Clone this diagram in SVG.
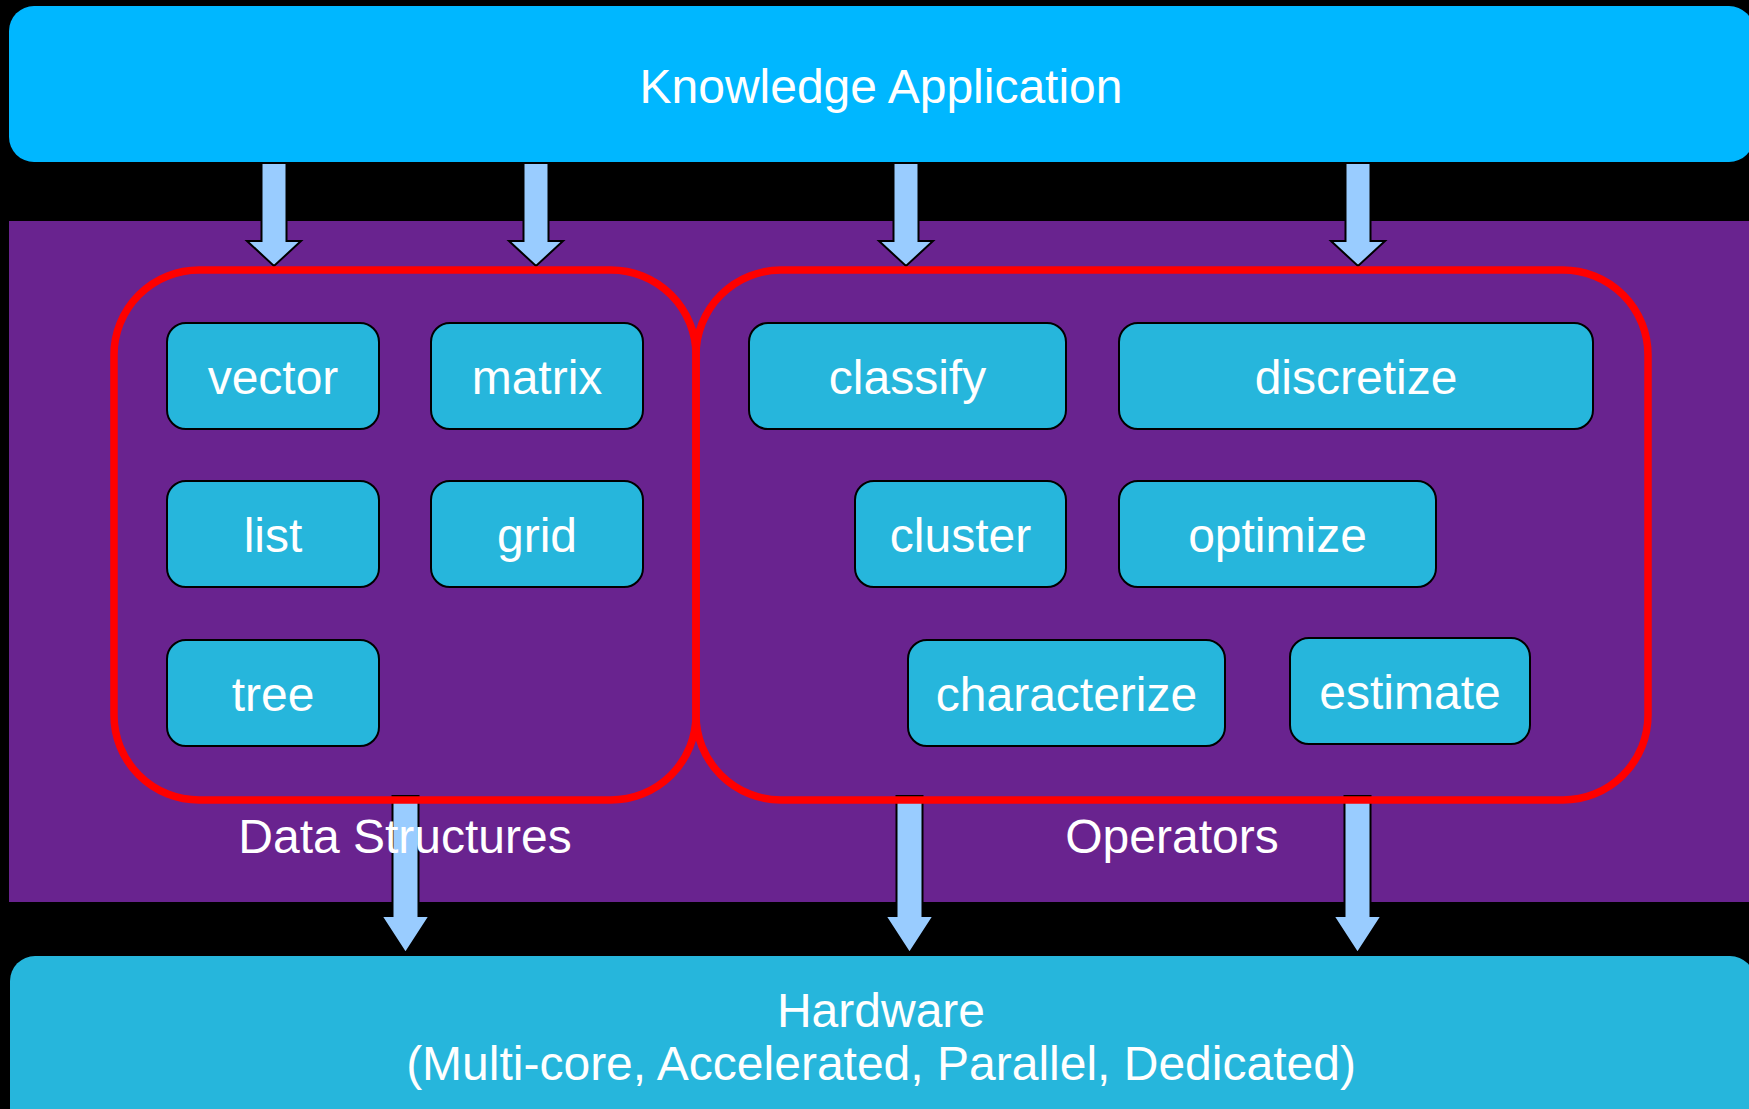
<svg xmlns="http://www.w3.org/2000/svg" width="1749" height="1109" viewBox="0 0 1749 1109">
  <style>
    text { font-family: "Liberation Sans", Arial, sans-serif; font-size: 48px; fill: #ffffff; text-anchor: middle; }
    .item { fill: #26B6DC; stroke: #000000; stroke-width: 2; }
    .group { fill: none; stroke: #FF0000; stroke-width: 7.5; }
    .arrow { fill: #99CCFF; stroke: #000000; stroke-width: 2; stroke-linejoin: miter; }
  </style>

  <!-- background -->
  <rect x="0" y="0" width="1749" height="1109" fill="#000000"/>

  <!-- middle layer band -->
  <rect id="layer-band" x="9" y="221" width="1745" height="681" fill="#69238F"/>

  <!-- top layer -->
  <g id="knowledge-application">
    <rect x="9" y="6" width="1745" height="156" rx="25" ry="25" fill="#00B7FF"/>
    <text x="881" y="103">Knowledge Application</text>
  </g>

  <!-- bottom layer -->
  <g id="hardware">
    <rect x="10" y="956" width="1745" height="200" rx="25" ry="25" fill="#26B6DC"/>
    <text x="881" y="1027">Hardware</text>
    <text x="881" y="1080">(Multi-core, Accelerated, Parallel, Dedicated)</text>
  </g>

  <!-- connectors -->
  <g id="connectors">
    <!-- application down to the groups -->
    <polygon class="arrow" points="261.5,163 286.5,163 286.5,241 301,241 274,266 247,241 261.5,241"/>
    <polygon class="arrow" points="523.5,163 548.5,163 548.5,241 563,241 536,266 509,241 523.5,241"/>
    <polygon class="arrow" points="893.5,163 918.5,163 918.5,241 933,241 906,266 879,241 893.5,241"/>
    <polygon class="arrow" points="1345.5,163 1370.5,163 1370.5,241 1385,241 1358,266 1331,241 1345.5,241"/>
    <!-- groups down to hardware -->
    <polygon class="arrow" points="392.5,796 418.5,796 418.5,916 429.5,916 405.5,953 381.5,916 392.5,916"/>
    <polygon class="arrow" points="896.5,796 922.5,796 922.5,916 933.5,916 909.5,953 885.5,916 896.5,916"/>
    <polygon class="arrow" points="1344.5,796 1370.5,796 1370.5,916 1381.5,916 1357.5,953 1333.5,916 1344.5,916"/>
  </g>

  <!-- data structures group -->
  <g id="data-structures">
    <rect class="group" x="114" y="270" width="582" height="530" rx="85" ry="85"/>
    <text x="405" y="853">Data Structures</text>
  </g>

  <!-- operators group -->
  <g id="operators">
    <rect class="group" x="696" y="270" width="952" height="530" rx="85" ry="85"/>
    <text x="1172" y="853">Operators</text>
  </g>

  <!-- data structure items -->
  <g id="vector">
    <rect class="item" x="167" y="323" width="212" height="106" rx="19"/>
    <text x="273" y="394">vector</text>
  </g>
  <g id="matrix">
    <rect class="item" x="431" y="323" width="212" height="106" rx="19"/>
    <text x="537" y="394">matrix</text>
  </g>
  <g id="list">
    <rect class="item" x="167" y="481" width="212" height="106" rx="19"/>
    <text x="273" y="552">list</text>
  </g>
  <g id="grid">
    <rect class="item" x="431" y="481" width="212" height="106" rx="19"/>
    <text x="537" y="552">grid</text>
  </g>
  <g id="tree">
    <rect class="item" x="167" y="640" width="212" height="106" rx="19"/>
    <text x="273" y="711">tree</text>
  </g>

  <!-- operator items -->
  <g id="classify">
    <rect class="item" x="749" y="323" width="317" height="106" rx="19"/>
    <text x="907.5" y="394">classify</text>
  </g>
  <g id="discretize">
    <rect class="item" x="1119" y="323" width="474" height="106" rx="19"/>
    <text x="1356" y="394">discretize</text>
  </g>
  <g id="cluster">
    <rect class="item" x="855" y="481" width="211" height="106" rx="19"/>
    <text x="960.5" y="552">cluster</text>
  </g>
  <g id="optimize">
    <rect class="item" x="1119" y="481" width="317" height="106" rx="19"/>
    <text x="1277.5" y="552">optimize</text>
  </g>
  <g id="characterize">
    <rect class="item" x="908" y="640" width="317" height="106" rx="19"/>
    <text x="1066.5" y="711">characterize</text>
  </g>
  <g id="estimate">
    <rect class="item" x="1290" y="638" width="240" height="106" rx="19"/>
    <text x="1410" y="709">estimate</text>
  </g>
</svg>
